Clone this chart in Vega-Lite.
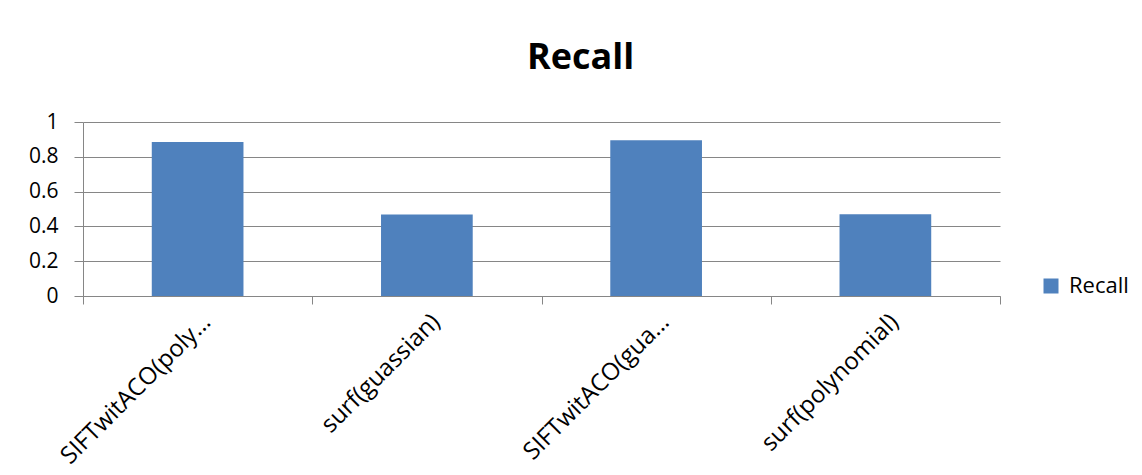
{
  "$schema": "https://vega.github.io/schema/vega-lite/v6.json",
  "autosize": {"type": "none"},
  "padding": {"left": 83, "top": 122, "right": 142, "bottom": 179},
  "width": 917,
  "height": 174,
  "background": "white",
  "title": {
    "text": "Recall",
    "font": "Open Sans",
    "fontSize": 36,
    "fontWeight": "bold",
    "color": "#000000",
    "anchor": "middle",
    "baseline": "alphabetic",
    "offset": 6,
    "dx": 39
  },
  "data": {
    "values": [
      {"method": "SIFTwitACO(poly…", "series": "Recall", "value": 0.885},
      {"method": "surf(guassian)", "series": "Recall", "value": 0.468},
      {"method": "SIFTwitACO(gua…", "series": "Recall", "value": 0.895},
      {"method": "surf(polynomial)", "series": "Recall", "value": 0.47}
    ]
  },
  "mark": {"type": "bar", "width": {"band": 0.4}},
  "encoding": {
    "x": {
      "field": "method",
      "type": "nominal",
      "sort": null,
      "scale": {"paddingInner": 0, "paddingOuter": 0},
      "axis": {
        "title": null,
        "labelAngle": -45,
        "labelAlign": "right",
        "labelBaseline": "middle",
        "labelFont": "Open Sans",
        "labelFontSize": 24,
        "labelColor": "#000000",
        "labelPadding": 14,
        "labelOffset": 9,
        "tickBand": "extent",
        "tickColor": "#868686",
        "tickSize": 8,
        "domainColor": "#868686",
        "grid": false,
        "labelLimit": 400
      }
    },
    "y": {
      "field": "value",
      "type": "quantitative",
      "scale": {"domain": [0, 1]},
      "axis": {
        "title": null,
        "values": [0, 0.2, 0.4, 0.6, 0.8, 1],
        "format": "~g",
        "labelFont": "Open Sans",
        "labelFontSize": 21,
        "labelColor": "#000000",
        "labelPadding": 16,
        "tickColor": "#868686",
        "tickSize": 9,
        "domainColor": "#868686",
        "gridColor": "#868686",
        "gridWidth": 1,
        "gridOpacity": 1
      }
    },
    "color": {
      "field": "series",
      "type": "nominal",
      "scale": {"range": ["#4F81BD"]},
      "legend": {
        "title": null,
        "orient": "none",
        "legendX": 957,
        "legendY": 153,
        "padding": 0,
        "symbolType": "square",
        "symbolSize": 225,
        "symbolStrokeWidth": 0,
        "symbolOpacity": 1,
        "labelFont": "Open Sans",
        "labelFontSize": 22,
        "labelColor": "#000000",
        "labelOffset": 7
      }
    }
  },
  "config": {
    "view": {"stroke": null},
    "axis": {"domainWidth": 1, "tickWidth": 1}
  }
}
